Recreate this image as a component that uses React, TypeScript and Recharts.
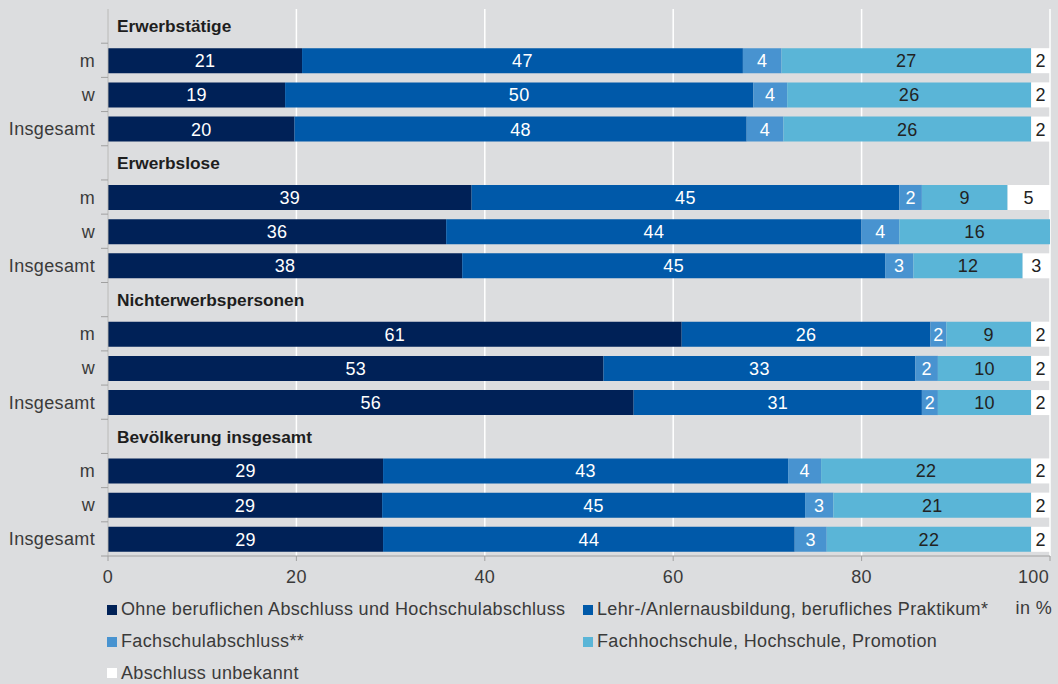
import React from 'react';
import { BarChart, Bar, XAxis, YAxis, CartesianGrid, LabelList, Legend } from 'recharts';

const groups = ['Erwerbstätige', 'Erwerbslose', 'Nichterwerbspersonen', 'Bevölkerung insgesamt'];
const subRows = ['m', 'w', 'Insgesamt'];
const xTicks = [0, 20, 40, 60, 80, 100];

// values in %, order: per group m, w, Insgesamt
const ohne = [20.6, 18.8, 19.8, 38.6, 35.9, 37.6, 60.9, 52.6, 55.8, 29.2, 29.1, 29.2];
const lehre = [46.8, 49.7, 48.0, 45.4, 44.1, 44.9, 26.4, 33.1, 30.6, 43.0, 44.9, 43.7];
const fachschul = [4.1, 3.6, 3.9, 2.4, 4.0, 3.0, 1.7, 2.4, 1.7, 3.5, 3.0, 3.4];
const hochschule = [26.5, 25.9, 26.3, 9.1, 16.0, 11.6, 9.0, 9.9, 9.9, 22.3, 21.0, 21.7];
const unbekannt = [2.0, 2.0, 2.0, 4.5, 0, 2.9, 2.0, 2.0, 2.0, 2.0, 2.0, 2.0];

const series = [
  { key: 'ohne', name: 'Ohne beruflichen Abschluss und Hochschulabschluss', color: '#002157', text: '#ffffff' },
  { key: 'lehre', name: 'Lehr-/Anlernausbildung, berufliches Praktikum*', color: '#0059a9', text: '#ffffff' },
  { key: 'fachschul', name: 'Fachschulabschluss**', color: '#4893d0', text: '#ffffff' },
  { key: 'hochschule', name: 'Fachhochschule, Hochschule, Promotion', color: '#5ab5d7', text: '#222222' },
  { key: 'unbekannt', name: 'Abschluss unbekannt', color: '#ffffff', text: '#222222' },
];

const data: any[] = [];
groups.forEach((g, gi) => {
  data.push({ key: `h${gi}`, label: g, header: true });
  subRows.forEach((s, si) => {
    const i = gi * 3 + si;
    data.push({
      key: `r${gi}-${si}`,
      label: s,
      header: false,
      ohne: ohne[i],
      lehre: lehre[i],
      fachschul: fachschul[i],
      hochschule: hochschule[i],
      unbekannt: unbekannt[i],
    });
  });
});

const rowByKey: Record<string, any> = {};
data.forEach((d) => (rowByKey[d.key] = d));

const FONT = '"Liberation Sans", Arial, sans-serif';
const FS = 18;
const LS = 0.35;

const YTick = (props: any) => {
  const { x, y, payload } = props;
  const row = rowByKey[payload.value];
  const half = payload.offset || 17.1;
  const axisX = x + 8;
  return (
    <g>
      <line x1={axisX - 7} x2={axisX} y1={y + half} y2={y + half} stroke="#a0a0a0" strokeWidth={1} />
      {row.header ? (
        <text x={117} y={y} dy="0.36em" textAnchor="start" fontSize={17.3} fontWeight={700} fill="#1e1e1e" fontFamily={FONT}>
          {row.label}
        </text>
      ) : (
        <text x={95} y={y} dy="0.36em" textAnchor="end" fontSize={FS} letterSpacing={LS} fill="#3a3a3a" fontFamily={FONT}>
          {row.label}
        </text>
      )}
    </g>
  );
};

const XTick = (props: any) => {
  const { x, y, payload } = props;
  const last = payload.value === xTicks[xTicks.length - 1];
  return (
    <text
      x={last ? x + 3 : x}
      y={y}
      dy="0.71em"
      textAnchor={last ? 'end' : 'middle'}
      fontSize={FS}
      letterSpacing={LS}
      fill="#3a3a3a"
      fontFamily={FONT}
    >
      {payload.value}
    </text>
  );
};

const makeLabel = (color: string) => (props: any) => {
  const { x, y, width, height, value } = props;
  if (value == null || value === 0) return null;
  return (
    <text
      x={x + width / 2}
      y={y + height / 2}
      dy="0.36em"
      textAnchor="middle"
      fontSize={FS}
      letterSpacing={LS}
      fill={color}
      fontFamily={FONT}
    >
      {Math.round(value)}
    </text>
  );
};

const renderLegend = () => {
  return (
    <div
      style={{
        display: 'grid',
        gridTemplateColumns: '476px 460px',
        paddingLeft: 107,
        fontFamily: FONT,
        fontSize: FS,
        letterSpacing: LS,
        color: '#3a3a3a',
      }}
    >
      {series.map((e) => (
        <div key={e.key} style={{ display: 'flex', alignItems: 'center', height: 31.7, whiteSpace: 'nowrap' }}>
          <span style={{ display: 'inline-block', width: 10, height: 10, background: e.color, marginRight: 4 }} />
          {e.name}
        </div>
      ))}
    </div>
  );
};

const InPercent = (props: any) => {
  const vb = props.viewBox || {};
  return (
    <text x={vb.x + vb.width + 2} y={vb.y + 58} textAnchor="end" fontSize={FS} letterSpacing={LS} fill="#3a3a3a" fontFamily={FONT}>
      in %
    </text>
  );
};

export default function App() {
  return (
    <div style={{ position: 'absolute', left: 0, top: 0, width: 1058, height: 684, background: '#dcdddf' }}>
      <BarChart
        width={1058}
        height={684}
        data={data}
        layout="vertical"
        margin={{ top: 9, right: 8, left: 0, bottom: 98 }}
        barSize={25}
      >
        <CartesianGrid horizontal={false} vertical stroke="#ffffff" strokeWidth={1.5} />
        <XAxis
          type="number"
          domain={[0, 100]}
          ticks={xTicks}
          allowDataOverflow
          height={30}
          axisLine={{ stroke: '#a0a0a0' }}
          tickLine={{ stroke: '#a0a0a0' }}
          tickSize={5}
          tickMargin={9}
          tick={<XTick />}
          label={<InPercent />}
        />
        <YAxis
          type="category"
          dataKey="key"
          width={108}
          axisLine={{ stroke: '#a0a0a0' }}
          tickLine={false}
          tick={<YTick />}
          interval={0}
        />
        <Legend
          layout="horizontal"
          verticalAlign="middle"
          align="center"
          content={renderLegend}
          wrapperStyle={{ left: 0, top: 594, width: 1058 }}
        />
        {series.map((s) => (
          <Bar key={s.key} dataKey={s.key} name={s.name} stackId="a" fill={s.color} isAnimationActive={false}>
            <LabelList dataKey={s.key} content={makeLabel(s.text)} />
          </Bar>
        ))}
      </BarChart>
    </div>
  );
}
